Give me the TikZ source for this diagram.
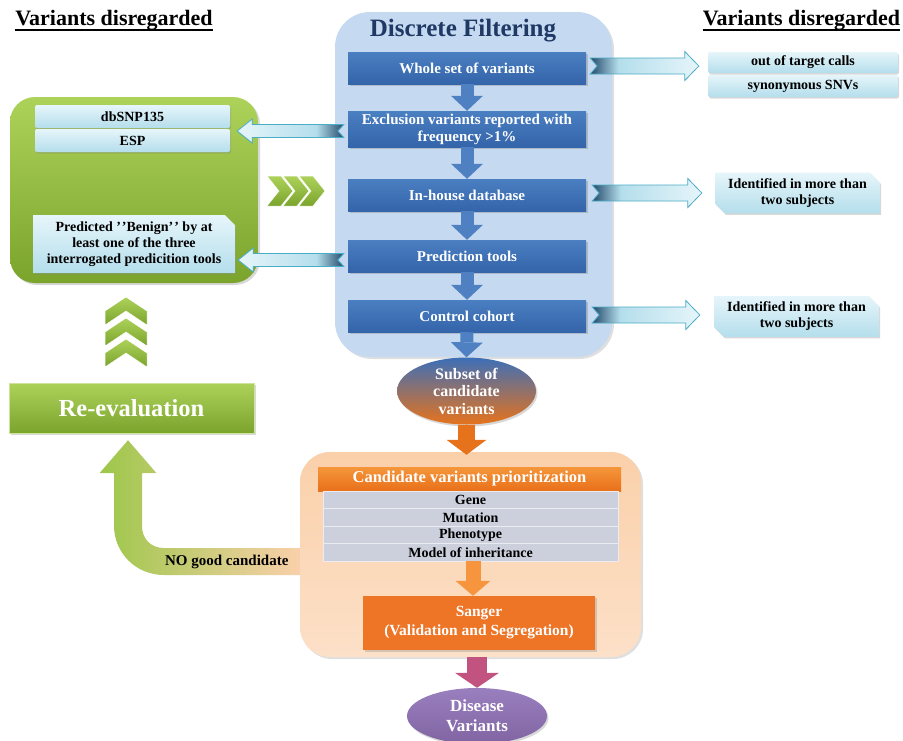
\documentclass[tikz,border=0pt]{standalone}
\usepackage{fontspec}
\setmainfont{Liberation Serif}
\usetikzlibrary{arrows.meta,calc,shapes.geometric,shapes.misc,shadows}

\definecolor{panelblue}{HTML}{C5D9F1}
\definecolor{boxtop}{HTML}{4A7FC1}
\definecolor{boxbot}{HTML}{3464AA}
\definecolor{arrowblue}{HTML}{4F81C2}
\definecolor{titleblue}{HTML}{1F3864}
\definecolor{cyanlight}{HTML}{E6F5FA}
\definecolor{cyanmid}{HTML}{B4DEEC}
\definecolor{tealline}{HTML}{4BACC6}
\definecolor{tealdark}{HTML}{23496A}
\definecolor{greenlight}{HTML}{ADD25A}
\definecolor{greendark}{HTML}{7BA42D}
\definecolor{greenarrow}{HTML}{9CC74A}
\definecolor{peach}{HTML}{FAD0AA}
\definecolor{peachlight}{HTML}{FDE4CF}
\definecolor{orangetop}{HTML}{F5963A}
\definecolor{orangebot}{HTML}{E8701A}
\definecolor{sangerorange}{HTML}{EE7426}
\definecolor{listgray}{HTML}{CBD0DC}
\definecolor{orangearrow}{HTML}{F7953F}
\definecolor{subsetblue}{HTML}{3D6FB8}
\definecolor{subsetorange}{HTML}{E6731C}
\definecolor{diseasepurple}{HTML}{8064A2}
\definecolor{purplelight}{HTML}{9A7FBE}
\definecolor{pinkarrow}{HTML}{C2527F}

% dark tail fading out quickly towards the head
\pgfdeclarehorizontalshading{tailshade}{100bp}{color(0bp)=(tealdark); color(25bp)=(tealdark);
  color(38bp)=(cyanmid); color(60bp)=(cyanlight!60!cyanmid); color(75bp)=(cyanlight);
  color(100bp)=(cyanlight)}

% hollow arrow to the right (tail, tip)
\newcommand{\outarrow}[2]{%
  \path[sidearrow, shading=tailshade]
    let \p1=(#1), \p2=(#2) in
    (\x1,\y1+8pt) -- (\x2-14pt,\y1+8pt) -- (\x2-14pt,\y1+14.5pt) -- (\x2,\y1)
    -- (\x2-14pt,\y1-14.5pt) -- (\x2-14pt,\y1-8pt) -- (\x1,\y1-8pt) -- (\x1+7pt,\y1) -- cycle;}
% hollow arrow to the left (tail, tip)
\newcommand{\inarrow}[2]{%
  \path[sidearrow, shading=tailshade, shading angle=180]
    let \p1=(#1), \p2=(#2) in
    (\x1,\y1+6.5pt) -- (\x2+15pt,\y1+6.5pt) -- (\x2+15pt,\y1+12pt) -- (\x2,\y1)
    -- (\x2+15pt,\y1-12pt) -- (\x2+15pt,\y1-6.5pt) -- (\x1,\y1-6.5pt) -- (\x1-6pt,\y1) -- cycle;}

\begin{document}
\begin{tikzpicture}[x=1pt,y=-1pt,
    heading/.style={font=\bfseries\fontsize{22}{25}\selectfont, inner sep=0pt},
    ftitle/.style={font=\bfseries\fontsize{25}{28}\selectfont, text=titleblue, inner sep=0pt},
    panel/.style={fill=panelblue, rounded corners=35pt, inner sep=0pt,
      drop shadow={opacity=0.25, shadow xshift=2pt, shadow yshift=-2pt}},
    stepbox/.style={top color=boxtop, bottom color=boxbot, text=white, align=center,
      font=\bfseries\fontsize{15}{17}\selectfont, minimum width=238pt, inner sep=1pt,
      drop shadow={opacity=0.35, shadow xshift=1.5pt, shadow yshift=-2pt}},
    blockarrow/.style args={#1/#2/#3}{draw=#1, line width=#2,
      -{Triangle[width=#3,length=15pt,line width=0pt,fill=#1]}},
    sidearrow/.style={draw=tealline, line width=0.8pt},
    lightbox/.style={top color=cyanlight, bottom color=cyanmid, align=center,
      font=\bfseries\fontsize{14}{16}\selectfont, inner sep=1pt, rounded corners=2pt,
      drop shadow={opacity=0.3, shadow xshift=1pt, shadow yshift=-1.5pt}},
    chambox/.style={lightbox, rounded corners=0pt, chamfered rectangle,
      chamfered rectangle corners={north east, south west},
      chamfered rectangle xsep=5pt, chamfered rectangle ysep=5pt},
    greenpanel/.style={top color=greenlight, bottom color=greendark, rounded corners=25pt,
      inner sep=0pt, drop shadow={opacity=0.3, shadow xshift=2pt, shadow yshift=-2pt}},
    greenbtn/.style={top color=greenlight, bottom color=greendark, draw=greenlight!60!white,
      text=white, font=\bfseries\fontsize{24.5}{28}\selectfont, inner sep=0pt,
      drop shadow={opacity=0.3, shadow xshift=1.5pt, shadow yshift=-1.5pt}},
    chevron/.style={top color=greenlight, bottom color=greendark, draw=white, line width=0.5pt},
    backarrow/.style={left color=greenarrow, middle color=greenarrow!60!peach, right color=peach},
    peachpanel/.style={top color=peach, bottom color=peachlight!80!peach, rounded corners=30pt,
      inner sep=0pt, drop shadow={opacity=0.25, shadow xshift=2pt, shadow yshift=-2pt}},
    prihead/.style={top color=orangetop, bottom color=orangebot, text=white,
      font=\bfseries\fontsize{16.5}{19}\selectfont, inner sep=0pt},
    listrow/.style={fill=listgray, draw=white!60!listgray, line width=0.5pt,
      font=\bfseries\fontsize{14}{16}\selectfont, minimum width=295pt,
      minimum height=17.5pt, inner sep=0pt},
    sangerbox/.style={fill=sangerorange, text=white, align=center,
      font=\bfseries\fontsize{15.5}{19}\selectfont, inner sep=0pt,
      drop shadow={opacity=0.3, shadow xshift=1.5pt, shadow yshift=-2pt}},
    ellshape/.style={ellipse, inner sep=0pt,
      drop shadow={opacity=0.3, shadow xshift=1.5pt, shadow yshift=-2pt}},
    elltext/.style={text=white, align=center, inner sep=0pt},
    notext/.style={font=\bfseries\fontsize{15}{18}\selectfont, inner sep=0pt}]

  \fill[white] (0,0) rectangle (903,740);
  \useasboundingbox (0,0) rectangle (903,740);

  % Headings
  \node[heading] (hleft) at (114,20) {Variants disregarded};
  \node[heading] (hright) at (801.5,20) {Variants disregarded};
  \draw[line width=1.6pt] (hleft.south west) -- (hleft.south east);
  \draw[line width=1.6pt] (hright.south west) -- (hright.south east);

  % Discrete filtering
  \node[panel, minimum width=277pt, minimum height=345pt] (filt) at (473.5,184.5) {};
  \node[ftitle] (ftit) at (463,31) {Discrete Filtering};
  \node[greenpanel, minimum width=248pt, minimum height=186pt] (gpanel) at (134,190) {};

  \foreach \n/\y/\h/\txt in {b1/68/32/{Whole set of variants},
      b2/129/36/{Exclusion variants reported with\\frequency >1\%},
      b3/195/32/{In-house database}, b4/256/32/{Prediction tools},
      b5/316/32/{Control cohort}}{
    \node[stepbox, minimum height=\h pt] (\n) at (467,\y) {\txt};
  }

  % Subset of candidate variants
  \node[ellshape, top color=subsetblue, bottom color=subsetorange,
    minimum width=139pt, minimum height=67pt] (subset) at (466.5,391) {};
  \node[elltext, font=\bfseries\fontsize{16}{17.5}\selectfont] (subsettxt) at (subset)
    {Subset of\\candidate\\variants};

  \foreach \a/\b in {b1/b2,b2/b3,b3/b4,b4/b5,b5/subset}{
    \draw[blockarrow=arrowblue/13pt/32pt] (\a.south) -- (\b.north);
  }

  % Variants disregarded (right)
  \node[lightbox, minimum width=190pt, minimum height=21pt] (r1) at (803,62.5) {out of target calls};
  \node[lightbox, minimum width=190pt, minimum height=22pt] (r2) at (803,86) {synonymous SNVs};
  \node[chambox, minimum width=165pt, minimum height=40pt] (r3) at (797.5,193)
    {Identified in more than\\two subjects};
  \node[chambox, minimum width=165pt, minimum height=40pt] (r4) at (796.5,316.5)
    {Identified in more than\\two subjects};
  \outarrow{$(b1.east)+(4,-2)$}{$(r1.south west)+(-9,0)$}
  \outarrow{$(b3.east)+(6,-2)$}{$(r3.west)+(-13,0)$}
  \outarrow{$(b5.east)+(6,-1)$}{$(r4.west)+(-14,0)$}

  % Variants disregarded (left)
  \inarrow{$(b2.west)+(-4,2)$}{$(gpanel.east |- b2.west)+(-21,0)$}
  \inarrow{$(b4.west)+(-4,4)$}{$(gpanel.east |- b4.west)+(-20,0)$}
  \node[lightbox, minimum width=195pt, minimum height=23pt] (db) at (132.5,116.5) {dbSNP135};
  \node[lightbox, minimum width=195pt, minimum height=23pt] (esp) at (132.5,140.5) {ESP};
  \node[chambox, chamfered rectangle corners=north east, minimum width=202pt,
    minimum height=58pt] (pred) at (134,244)
    {Predicted ’\kern1pt’Benign’\kern1pt’ by at\\least one of the three\\interrogated predicition tools};

  % chevrons
  \foreach \i in {0,1,2}{
    \path[chevron] ({267+16*\i},176) -- ++(14,0) -- ++(12,15) -- ++(-12,15)
      -- ++(-14,0) -- ++(12,-15) -- cycle;
  }
  \foreach \i in {0,1,2}{
    \path[chevron] (126,{297+21*\i}) -- ++(21,14) -- ++(0,14) -- ++(-21,-14)
      -- ++(-21,14) -- ++(0,-14) -- cycle;
  }
  \node[greenbtn, minimum width=245pt, minimum height=50pt] (reeval) at (131.5,408) {Re-evaluation};

  % Prioritization
  \node[peachpanel, minimum width=341pt, minimum height=205pt] (pbox) at (470.5,554.5) {};
  \draw[blockarrow=subsetorange/17pt/40pt] (subset.south) -- ($(subset.south |- pbox.north)+(0,3)$);
  \node[prihead, minimum width=303pt, minimum height=24pt] (prio) at (469.5,479)
    {Candidate variants prioritization};
  \foreach \n/\y/\txt in {g1/499.75/Gene, g2/517.25/Mutation, g3/534.75/Phenotype,
      g4/552.25/{Model of inheritance}}{
    \node[listrow] (\n) at (470.5,\y) {\txt};
  }
  \node[sangerbox, minimum width=232pt, minimum height=54pt] (sanger) at (479,623)
    {Sanger\\(Validation and Segregation)};
  \draw[blockarrow=orangearrow/15pt/35pt] ($(g4.south)+(2.5,0)$) -- ($(g4.south |- sanger.north)+(2.5,0)$);

  % Disease variants
  \node[ellshape, top color=purplelight, bottom color=diseasepurple,
    minimum width=140pt, minimum height=56pt] (disease) at (477,716) {};
  \node[elltext, font=\bfseries\fontsize{17}{20}\selectfont] (diseasetxt) at (disease)
    {Disease\\Variants};
  \draw[blockarrow=pinkarrow/20pt/44pt] (disease.north |- pbox.south) -- (disease.north);

  % NO good candidate
  \path[backarrow] let \p1=($(reeval.south)+(-3.5,7)$), \p2=($(pbox.west)+(0,7)$) in
    (\x2,\y2-13.5pt) -- (\x1+36pt,\y2-13.5pt)
    .. controls (\x1+8pt,\y2-13.5pt) and (\x1-14pt,\y2+8.5pt) .. (\x1-14pt,\y2+36pt)
    -- (\x1-14pt,\y1-33pt) -- (\x1-28.5pt,\y1-33pt) -- (\x1,\y1) -- (\x1+28.5pt,\y1-33pt)
    -- (\x1+14pt,\y1-33pt) -- (\x1+14pt,\y2+35.5pt)
    .. controls (\x1+14pt,\y2+22.5pt) and (\x1+23pt,\y2+13.5pt) .. (\x1+36pt,\y2+13.5pt)
    -- (\x2,\y2+13.5pt) -- cycle;
  \node[notext] (nogood) at ($(pbox.west)+(-73,7)$) {NO good candidate};
\end{tikzpicture}
\end{document}
